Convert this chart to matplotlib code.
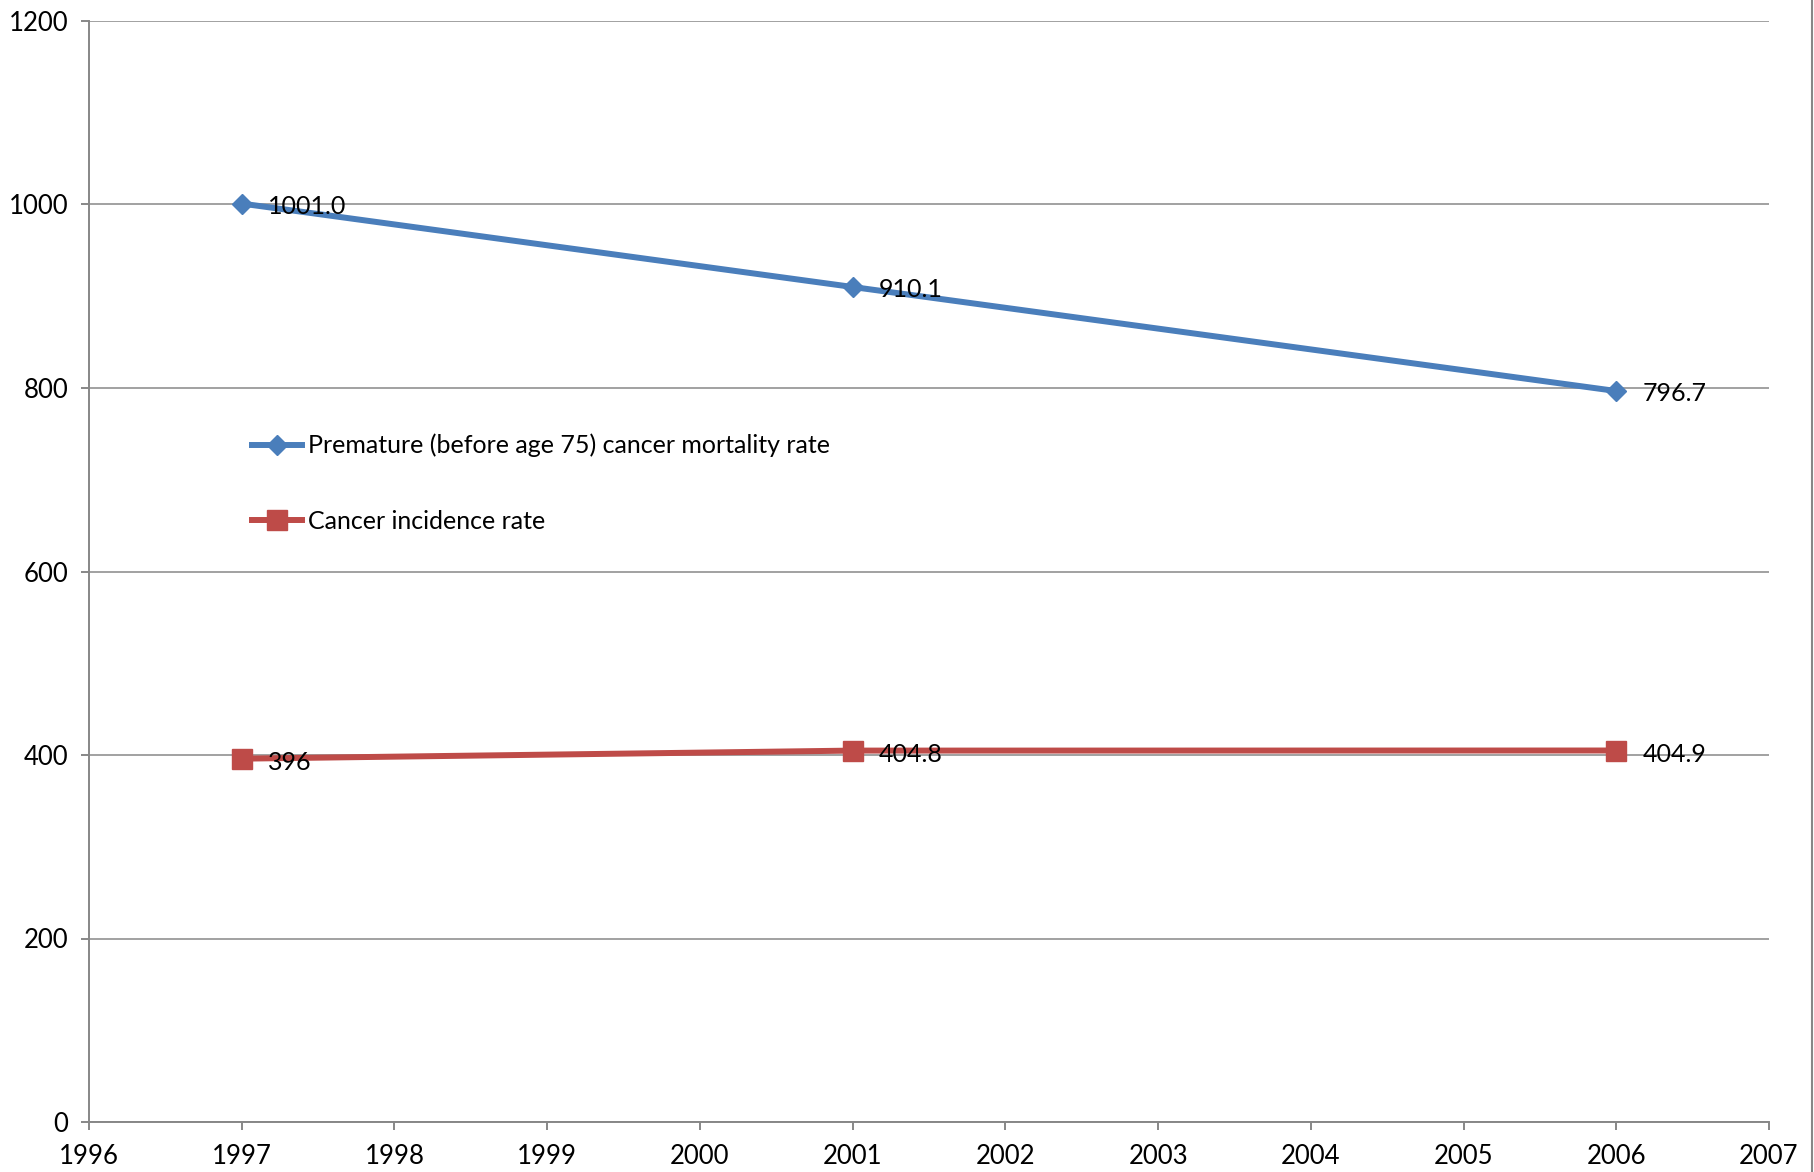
import matplotlib

matplotlib.use("Agg")
import matplotlib.pyplot as plt
from matplotlib.lines import Line2D

plt.rcParams["font.family"] = ["Lato", "DejaVu Sans"]

years = [1997, 2001, 2006]
mortality = [1001.0, 910.1, 796.7]
incidence = [396, 404.8, 404.9]
mortality_labels = ["1001.0", "910.1", "796.7"]
incidence_labels = ["396", "404.8", "404.9"]

BLUE = "#4A7EBB"
RED = "#BE4B48"
GRID = "#878787"

fig = plt.figure(figsize=(18.14, 11.72), dpi=100)
ax = fig.add_axes([89 / 1814, 50 / 1172, 1680 / 1814, 1101 / 1172])

ax.plot(years, mortality, color=BLUE, lw=4.3, marker="D", ms=10.5,
        mec=BLUE, mfc=BLUE, zorder=3,
        label="Premature (before age 75) cancer mortality rate")
ax.plot(years, incidence, color=RED, lw=4.3, marker="s", ms=14,
        mec=RED, mfc=RED, zorder=3, label="Cancer incidence rate")

for x, y, s in zip(years, mortality, mortality_labels):
    ax.annotate(s, (x, y), xytext=(19, -2), textcoords="offset points",
                ha="left", va="center", fontsize=18, zorder=4)
for x, y, s in zip(years, incidence, incidence_labels):
    ax.annotate(s, (x, y), xytext=(19, -3), textcoords="offset points",
                ha="left", va="center", fontsize=18, zorder=4)

ax.set_xlim(1996, 2007)
ax.set_ylim(0, 1200)
ax.set_xticks(range(1996, 2008))
ax.set_yticks(range(0, 1201, 200))
ax.yaxis.grid(True, color=GRID, lw=1.1)
ax.set_axisbelow(True)

for side in ("top", "right"):
    ax.spines[side].set_visible(False)
for side in ("left", "bottom"):
    ax.spines[side].set_color(GRID)
    ax.spines[side].set_linewidth(1.4)
ax.tick_params(axis="both", direction="out", length=6, width=1.4,
               color=GRID, labelsize=18.5)
ax.tick_params(axis="x", pad=10)
ax.tick_params(axis="y", pad=9)

ax.legend(loc="upper left", bbox_to_anchor=(0.097, 0.625), frameon=False,
          fontsize=18, borderpad=0, borderaxespad=0, handlelength=2.0,
          handletextpad=0.25, labelspacing=2.1)

# outer chart border on the right
fig.add_artist(Line2D([1812 / 1814, 1812 / 1814], [0, 1],
                      transform=fig.transFigure, color=GRID, lw=1.5))

fig.savefig("out.png", dpi=100)
